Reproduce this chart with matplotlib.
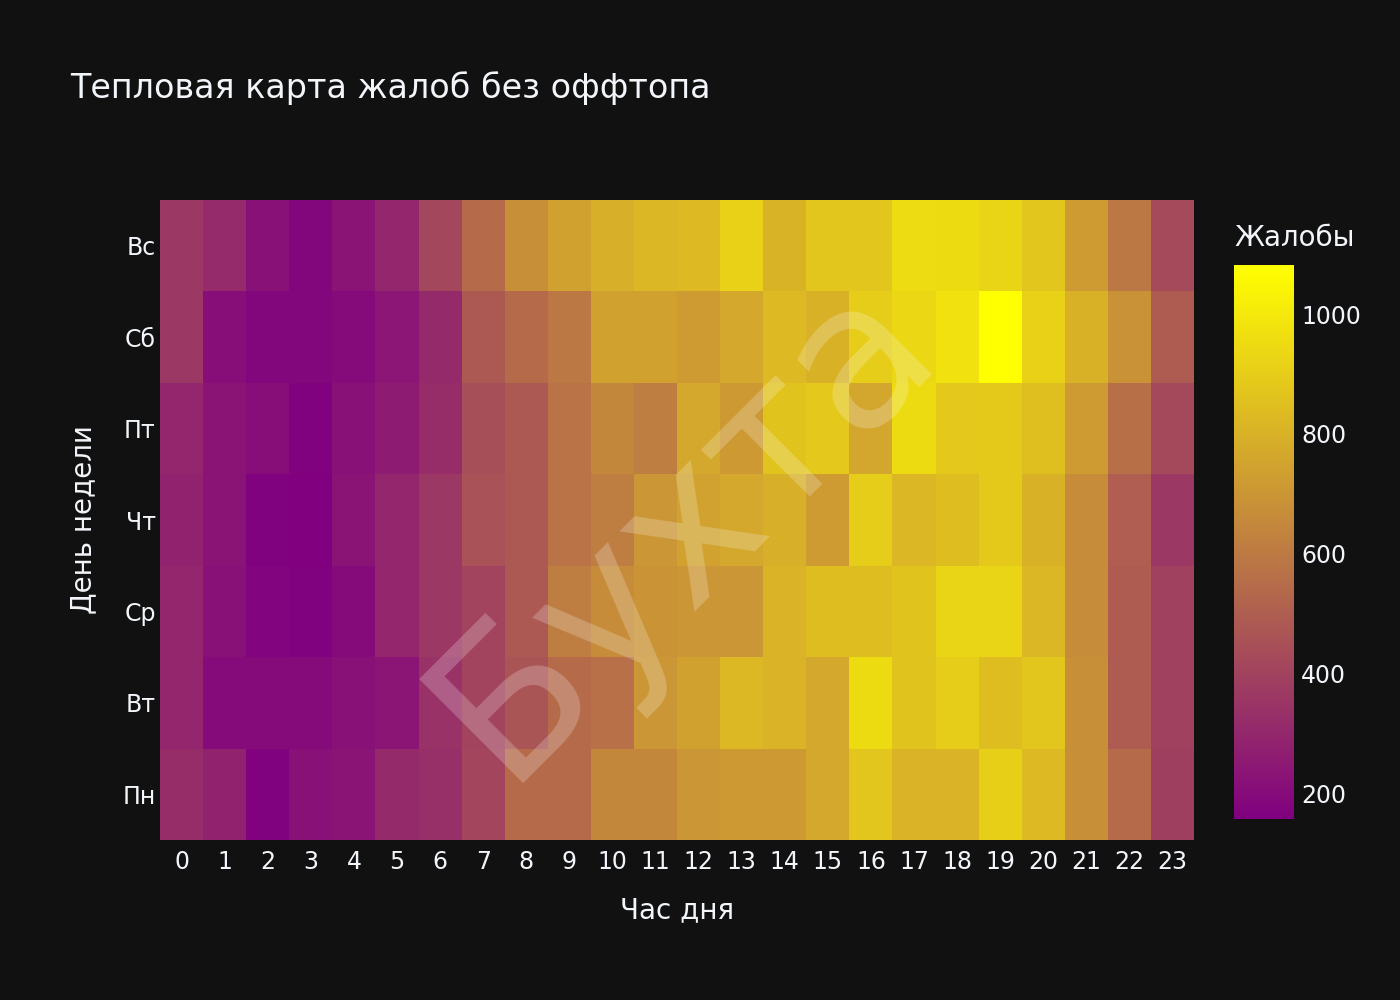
import numpy as np
import matplotlib.pyplot as plt
from matplotlib.colors import LinearSegmentedColormap

hours = list(range(24))
days = ["Пн", "Вт", "Ср", "Чт", "Пт", "Сб", "Вс"]

# жалобы по часам, строки Пн..Вс
mon = [320, 285, 165, 220, 230, 310, 330, 410, 545, 545, 645, 645, 700, 710, 710, 765, 875, 810, 810, 905, 830, 675, 545, 385]
tue = [295, 200, 200, 200, 220, 235, 340, 405, 465, 545, 565, 700, 740, 825, 810, 765, 950, 865, 900, 840, 870, 675, 490, 395]
wed = [295, 220, 175, 165, 200, 295, 360, 405, 480, 610, 665, 690, 700, 700, 810, 840, 840, 865, 925, 925, 815, 665, 490, 395]
thu = [285, 230, 165, 160, 230, 295, 360, 455, 480, 575, 610, 700, 745, 765, 790, 720, 900, 815, 840, 885, 800, 665, 500, 360]
fri = [295, 230, 210, 165, 220, 255, 320, 445, 480, 575, 645, 610, 765, 710, 865, 880, 760, 950, 880, 885, 850, 720, 560, 420]
sat = [360, 210, 185, 185, 200, 240, 310, 480, 545, 590, 740, 740, 720, 765, 830, 800, 900, 935, 970, 1082, 915, 800, 685, 490]
sun = [360, 315, 220, 185, 230, 295, 415, 545, 675, 740, 790, 815, 830, 915, 805, 870, 870, 955, 950, 925, 870, 720, 590, 425]

z = np.array([mon, tue, wed, thu, fri, sat, sun])
zmin, zmax = 157, 1082

bg = "#111111"
txt = "#f2f5fa"
cmap = LinearSegmentedColormap.from_list("py", ["#800080", "#ffff00"])

fig = plt.figure(figsize=(14, 10), dpi=100, facecolor=bg)
ax = fig.add_axes([0.1143, 0.16, 0.7386, 0.64])
ax.set_facecolor(bg)
mesh = ax.pcolormesh(np.arange(len(hours) + 1) - 0.5, np.arange(len(days) + 1) - 0.5, z,
                     cmap=cmap, vmin=zmin, vmax=zmax)
ax.set_xlim(-0.5, len(hours) - 0.5)
ax.set_ylim(-0.5, len(days) - 0.5)
ax.set_xticks(hours)
ax.set_xticklabels([str(h) for h in hours])
ax.set_yticks(range(len(days)))
ax.set_yticklabels(days)
ax.tick_params(axis="x", length=0, colors=txt, labelsize=17, pad=7)
ax.tick_params(axis="y", length=0, colors=txt, labelsize=17, pad=3)
for s in ax.spines.values():
    s.set_visible(False)
ax.set_xlabel("Час дня", color=txt, fontsize=20, labelpad=16)
ax.set_ylabel("День недели", color=txt, fontsize=20, labelpad=18)

# водяной знак
ax.text(0.505, 0.49, "Бухта", transform=ax.transAxes, rotation=45, fontsize=145,
        color="white", alpha=0.22, ha="center", va="center", rotation_mode="anchor")

cax = fig.add_axes([0.8814, 0.181, 0.0429, 0.554])
cb = fig.colorbar(mesh, cax=cax)
cb.outline.set_visible(False)
cb.set_ticks([200, 400, 600, 800, 1000])
cax.tick_params(length=0, colors=txt, labelsize=17, pad=5)
fig.text(0.8814, 0.762, "Жалобы", color=txt, fontsize=20, ha="left", va="center")

fig.text(0.05, 0.912, "Тепловая карта жалоб без оффтопа", color=txt, fontsize=24,
         ha="left", va="center")

fig.savefig("out.png", facecolor=bg)
